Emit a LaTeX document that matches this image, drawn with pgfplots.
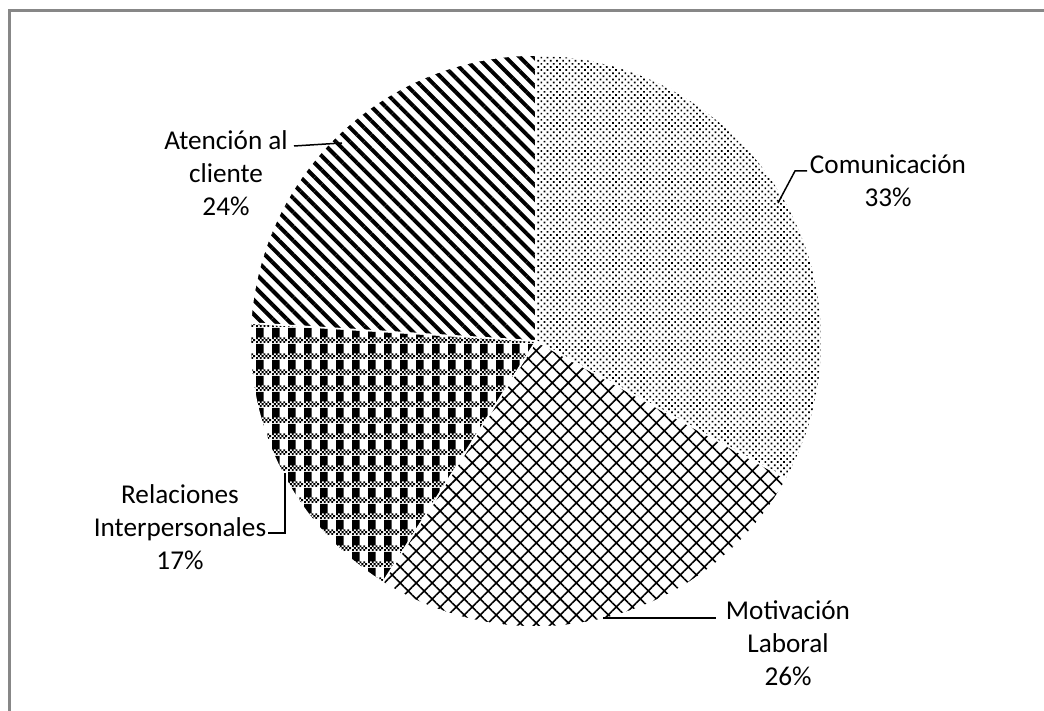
\documentclass[border=0pt]{standalone}
\usepackage{pgfplots}
\pgfplotsset{compat=1.18}
\usepackage{pgfplotstable}
\usepackage{fontspec}
\setmainfont{Carlito}
\usetikzlibrary{patterns,patterns.meta}

% plaid fill: black vertical bars crossed by a fine checkered band
\pgfdeclarepatternformonly{plaid}{\pgfpointorigin}{\pgfpoint{8pt}{8pt}}{\pgfpoint{8pt}{8pt}}{%
  \pgfpathrectangle{\pgfpoint{0pt}{3pt}}{\pgfpoint{4pt}{5pt}}%
  \pgfpathrectangle{\pgfpoint{0pt}{0pt}}{\pgfpoint{1pt}{1pt}}%
  \pgfpathrectangle{\pgfpoint{2pt}{0pt}}{\pgfpoint{1pt}{1pt}}%
  \pgfpathrectangle{\pgfpoint{4pt}{0pt}}{\pgfpoint{1pt}{1pt}}%
  \pgfpathrectangle{\pgfpoint{6pt}{0pt}}{\pgfpoint{1pt}{1pt}}%
  \pgfpathrectangle{\pgfpoint{1pt}{1pt}}{\pgfpoint{1pt}{1pt}}%
  \pgfpathrectangle{\pgfpoint{3pt}{1pt}}{\pgfpoint{1pt}{1pt}}%
  \pgfpathrectangle{\pgfpoint{5pt}{1pt}}{\pgfpoint{1pt}{1pt}}%
  \pgfpathrectangle{\pgfpoint{7pt}{1pt}}{\pgfpoint{1pt}{1pt}}%
  \pgfpathrectangle{\pgfpoint{0pt}{2pt}}{\pgfpoint{1pt}{1pt}}%
  \pgfpathrectangle{\pgfpoint{2pt}{2pt}}{\pgfpoint{1pt}{1pt}}%
  \pgfpathrectangle{\pgfpoint{4pt}{2pt}}{\pgfpoint{1pt}{1pt}}%
  \pgfpathrectangle{\pgfpoint{6pt}{2pt}}{\pgfpoint{1pt}{1pt}}%
  \pgfusepath{fill}}

\pgfplotstableread[col sep=comma]{
label,value
Comunicación,33
Motivación Laboral,26
Relaciones Interpersonales,17
Atención al cliente,24
}\piedata

\pgfplotstablegetelem{0}{value}\of\piedata\edef\vA{\pgfplotsretval}
\pgfplotstablegetelem{1}{value}\of\piedata\edef\vB{\pgfplotsretval}
\pgfplotstablegetelem{2}{value}\of\piedata\edef\vC{\pgfplotsretval}
\pgfplotstablegetelem{3}{value}\of\piedata\edef\vD{\pgfplotsretval}

% slice boundaries, clockwise from twelve o'clock
\pgfmathsetmacro\aA{90-3.6*\vA}
\pgfmathsetmacro\aB{\aA-3.6*\vB}
\pgfmathsetmacro\aC{\aB-3.6*\vC}
\pgfmathsetmacro\aD{\aC-3.6*\vD}

\def\R{143pt}
\def\cx{536}
\def\cy{341}

\definecolor{framegray}{RGB}{135,135,135}

\begin{document}
\begin{tikzpicture}
\begin{axis}[
  hide axis, scale only axis,
  width=522pt, height=355.5pt,
  xmin=0, xmax=1044, ymin=0, ymax=711,
  y dir=reverse, clip=false]

\path[pattern={Dots[distance=2.2pt,radius=0.6pt,angle=45]}, draw=white, line width=0.8pt]
  (axis cs:\cx,\cy) -- ++(90:\R) arc[start angle=90, end angle=\aA, radius=\R] -- cycle;
\path[pattern={Hatch[angle=45,distance=5.66pt,line width=0.8pt]}, draw=white, line width=0.8pt]
  (axis cs:\cx,\cy) -- ++(\aA:\R) arc[start angle=\aA, end angle=\aB, radius=\R] -- cycle;
\path[pattern=plaid, draw=white, line width=0.8pt]
  (axis cs:\cx,\cy) -- ++(\aB:\R) arc[start angle=\aB, end angle=\aC, radius=\R] -- cycle;
\path[pattern={Lines[angle=-45,distance=5pt,line width=2pt]}, draw=white, line width=0.8pt]
  (axis cs:\cx,\cy) -- ++(\aC:\R) arc[start angle=\aC, end angle=\aD, radius=\R] -- cycle;

% leader lines
\draw[line width=0.75pt] (axis cs:778,203) -- (axis cs:795,171) -- (axis cs:807,171);
\draw[line width=0.75pt] (axis cs:603,618) -- (axis cs:716,618);
\draw[line width=0.75pt] (axis cs:285,473) -- (axis cs:285,533) -- (axis cs:268,533);
\draw[line width=0.75pt] (axis cs:294,146) -- (axis cs:342,143);

% data labels
\begin{scope}[every node/.style={align=center, font=\fontsize{13.6}{16.4}\selectfont}]
\node at (axis cs:888,181) {Comunicación\\\vA\%};
\node at (axis cs:788,643) {Motivación\\Laboral\\\vB\%};
\node at (axis cs:180,527) {Relaciones\\Interpersonales\\\vC\%};
\node at (axis cs:226,173) {Atención al\\cliente\\\vD\%};
\end{scope}

% chart area border
\draw[framegray, line width=1.5pt] (axis cs:9,720) -- (axis cs:9,11) -- (axis cs:1050,11);
\end{axis}
\pgfresetboundingbox
\useasboundingbox (current axis.south west) rectangle (current axis.north east);
\end{tikzpicture}
\end{document}
